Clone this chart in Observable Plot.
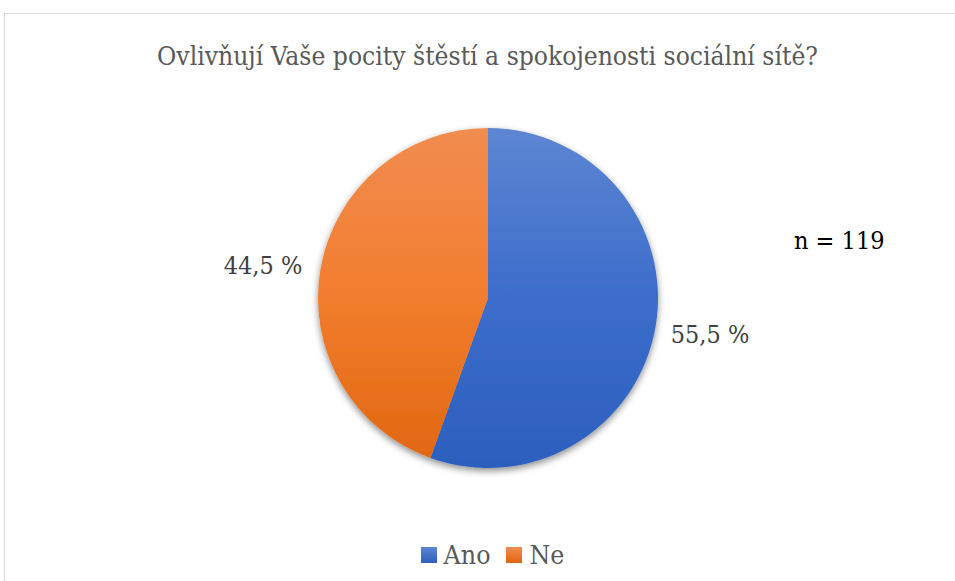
<!DOCTYPE html>
<html>
<head>
<meta charset="utf-8">
<script src="https://cdn.jsdelivr.net/npm/d3@7"></script>
<script src="https://cdn.jsdelivr.net/npm/@observablehq/plot@0.6"></script>
<style>
  body { margin: 0; background: #fff; }
  #wrap { position: relative; width: 955px; height: 581px; overflow: hidden; background: #fff;
          font-family: "DejaVu Serif Condensed", "DejaVu Serif", serif; font-stretch: condensed; }
  #frame { position: absolute; left: 4px; top: 13px; width: 1200px; height: 1200px;
           border: 1px solid #d9d9d9; box-sizing: border-box; pointer-events: none; }
  #title { position: relative; height: 100px; box-sizing: border-box; padding-top: 40px; padding-left: 20px;
           text-align: center; font-size: 26.2px; line-height: 32px; color: #595959; }
  #chart { position: relative; height: 420px; }
  #legend { position: relative; height: 61px; box-sizing: border-box; padding-top: 8px;
            display: flex; justify-content: center; align-items: center; gap: 0;
            font-size: 26.5px; line-height: 28px; color: #595959; padding-left: 30px; }
  .item { display: flex; align-items: center; margin: 0 8px; }
  .sw { width: 16px; height: 16px; margin-right: 7px; flex: none; }
</style>
</head>
<body>
<div id="wrap">
  <div id="frame"></div>
  <div id="title"></div>
  <div id="chart"></div>
  <div id="legend"></div>
</div>
<script>
const categories = ["Ano", "Ne"];
const shares = [55.5, 44.5];
const percentLabels = ["55,5 %", "44,5 %"];
const titleText = "Ovlivňují Vaše pocity štěstí a spokojenosti sociální sítě?";
const sampleNote = "n = 119";

const palette = {
  Ano: ["#5d86d2", "#3c6dcb", "#2c5fbe"],
  Ne: ["#f18c50", "#f27d2e", "#e0660f"]
};
const serif = '"DejaVu Serif Condensed", "DejaVu Serif", serif';

const data = categories.map((c, i) => ({ category: c, value: shares[i], label: percentLabels[i] }));
const arcs = d3.pie().sort(null).value(d => d.value)(data);
const labelR = 1.1;
const labelData = arcs.map(a => {
  const m = (a.startAngle + a.endAngle) / 2;
  return { ...a.data, x: Math.sin(m) * labelR, y: Math.cos(m) * labelR, right: Math.sin(m) >= 0 };
});

function pieMark(index, scales, values, dimensions, context) {
  const cx = scales.x(0), cy = scales.y(0), R = scales.x(1) - cx;
  const g = d3.create("svg:g");
  const defs = g.append("defs");
  const f = defs.append("filter").attr("id", "pieShadow")
    .attr("x", "-20%").attr("y", "-20%").attr("width", "140%").attr("height", "140%");
  f.append("feDropShadow").attr("dx", 0).attr("dy", 3).attr("stdDeviation", 3.5)
    .attr("flood-color", "#000").attr("flood-opacity", 0.45);
  for (const c of categories) {
    const lg = defs.append("linearGradient").attr("id", "pieGrad" + c)
      .attr("gradientUnits", "userSpaceOnUse")
      .attr("x1", 0).attr("y1", -R).attr("x2", 0).attr("y2", R);
    lg.append("stop").attr("offset", "0%").attr("stop-color", palette[c][0]);
    lg.append("stop").attr("offset", "50%").attr("stop-color", palette[c][1]);
    lg.append("stop").attr("offset", "100%").attr("stop-color", palette[c][2]);
  }
  const arc = d3.arc().innerRadius(0).outerRadius(R);
  g.append("g").attr("filter", "url(#pieShadow)")
    .attr("transform", `translate(${cx},${cy})`)
    .selectAll("path").data(arcs).join("path")
    .attr("d", arc)
    .attr("fill", d => `url(#pieGrad${d.data.category})`);
  return g.node();
}

document.getElementById("title").textContent = titleText;

const chart = Plot.plot({
  width: 955,
  height: 420,
  x: { domain: [-1, 1], range: [318, 658], axis: null },
  y: { domain: [-1, 1], range: [368, 28], axis: null },
  style: { fontFamily: serif, fontStretch: "condensed", background: "transparent", overflow: "visible" },
  marks: [
    pieMark,
    Plot.text(labelData.filter(d => d.right), { x: "x", y: "y", text: "label", textAnchor: "start",
      fontSize: 25, fill: "#404040", dy: 4, dx: -2 }),
    Plot.text(labelData.filter(d => !d.right), { x: "x", y: "y", text: "label", textAnchor: "end",
      fontSize: 25, fill: "#404040", dx: -2 }),
    Plot.text([sampleNote], { frameAnchor: "top-right", text: d => d, dx: -70, dy: 131,
      textAnchor: "end", fontSize: 25, fill: "#000" })
  ]
});
document.getElementById("chart").appendChild(chart);

const legend = document.getElementById("legend");
for (const c of categories) {
  const item = document.createElement("div");
  item.className = "item";
  const sw = document.createElement("div");
  sw.className = "sw";
  sw.style.background = `linear-gradient(${palette[c][0]}, ${palette[c][2]})`;
  const t = document.createElement("span");
  t.textContent = c;
  item.appendChild(sw); item.appendChild(t);
  legend.appendChild(item);
}
</script>
</body>
</html>
